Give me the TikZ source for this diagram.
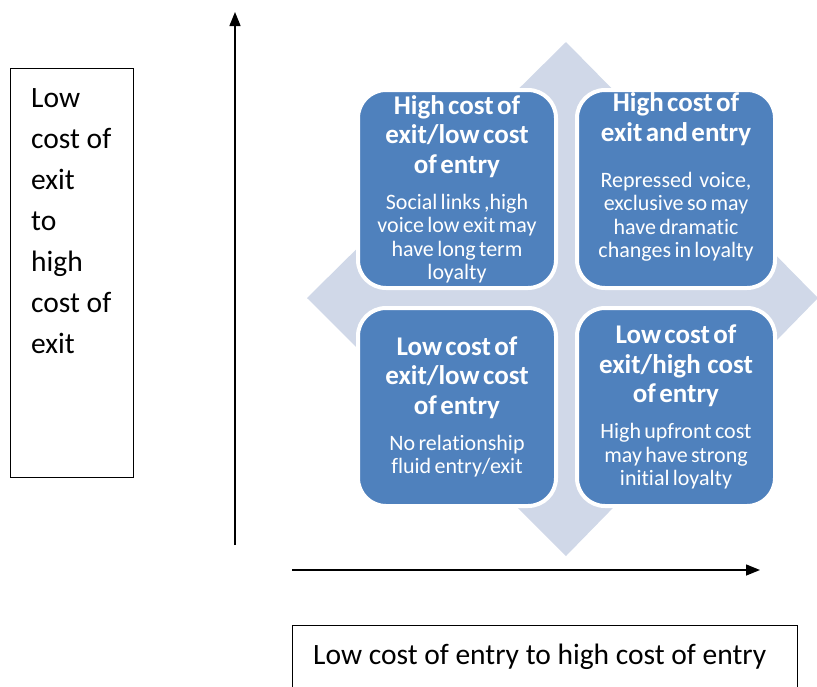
\documentclass[tikz,border=0pt]{standalone}
\usepackage{fontspec}
\setmainfont{Carlito}[Ligatures={NoCommon,NoDiscretionary,NoContextual}]
\usetikzlibrary{arrows.meta}
\definecolor{qblue}{RGB}{79,129,189}
\definecolor{qdiam}{RGB}{208,216,232}
\newcommand\qtitle[2][13pt]{{\fontsize{27}{29.5}\selectfont\bfseries #2\par}\vspace{#1}}
\newcommand\qbody[1]{{\fontsize{22}{23.3}\selectfont #1\par}}
\begin{document}
\begin{tikzpicture}[x=1pt,y=-1pt,
  quad/.style={draw=white, line width=4pt, fill=qblue, rounded corners=28pt,
    minimum width=198pt, minimum height=198pt, text width=196pt, align=center,
    text=white, inner sep=0pt},
  axisarrow/.style={line width=1.4pt, -{Triangle[length=14pt,width=11pt]}},
  labelbox/.style={draw=black, line width=1pt, inner sep=0pt},
  labeltext/.style={inner sep=0pt, align=left}
]
\useasboundingbox (0,0) rectangle (817,686);

% background diamond
\fill[qdiam] (566,42) -- (818,298) -- (566,556) -- (307,298) -- cycle;

% quadrants
\node[quad] (tl) at (457,189) {\qtitle{High cost of\\exit/low cost\\of entry}\qbody{Social links ,high\\voice low exit may\\have long term\\loyalty}};
\node[quad] (tr) at (676,189) {\qtitle[23pt]{High cost of\\exit and entry}\qbody{Repressed\ \ voice,\\exclusive so may\\have dramatic\\changes in loyalty}\vspace*{24pt}};
\node[quad] (bl) at (457,407) {\qtitle{Low cost of\\exit/low cost\\of entry}\qbody{No relationship\\fluid entry/exit}};
\node[quad] (br) at (676,407) {\qtitle{Low cost of\\exit/high\ \ cost\\of entry}\qbody{High upfront cost\\may have strong\\initial loyalty}};

% axes
\coordinate (ystart) at (235,545);
\coordinate (yend) at (235,12);
\coordinate (xstart) at (292,570);
\coordinate (xend) at (760,570);
\draw[axisarrow] (ystart) -- (yend);
\draw[axisarrow] (xstart) -- (xend);

% axis label boxes
\node[labelbox, minimum width=123pt, minimum height=409pt] (ybox) at (71.5,272.5) {};
\node[labeltext, anchor=north west, font=\fontsize{29.5}{41}\selectfont] (ytext) at (31,88.5) {Low\\cost of\\exit\\to\\high\\cost of\\exit};
\node[labelbox, minimum width=505pt, minimum height=120pt] (xbox) at (544.5,685) {};
\node[labeltext, anchor=base west, font=\fontsize{29.5}{34}\selectfont] (xtext) at (313,664.5) {Low cost of entry to high cost of entry};
\end{tikzpicture}
\end{document}
